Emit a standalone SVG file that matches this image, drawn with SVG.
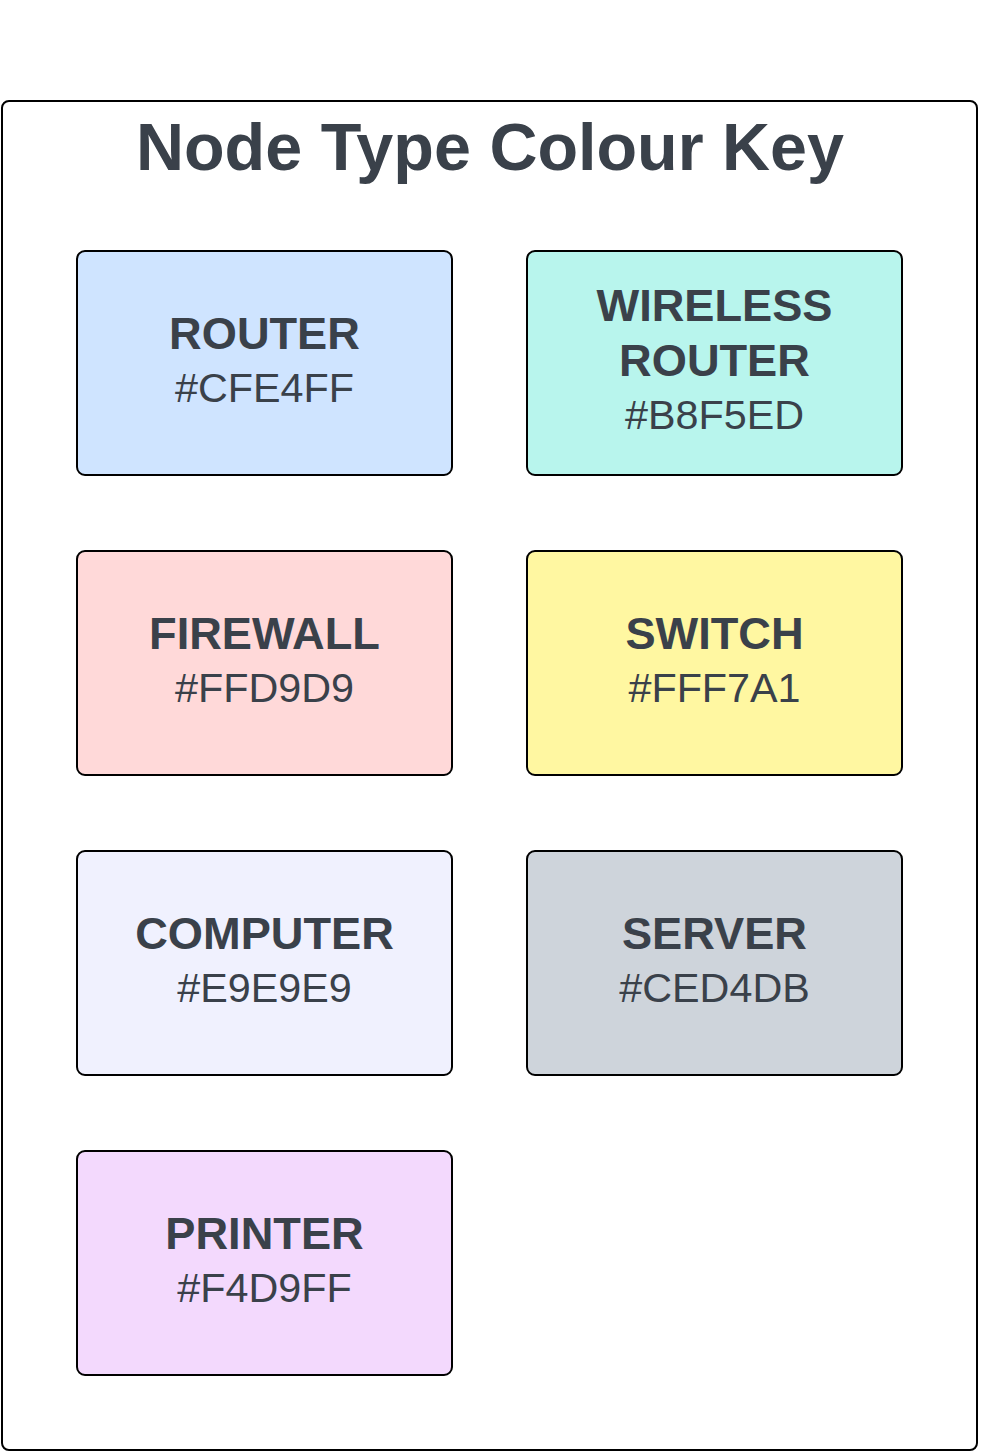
<svg xmlns="http://www.w3.org/2000/svg" width="1005" height="1453" viewBox="0 0 1005 1453">
<style>
.frame{fill:#ffffff;stroke:#000000;stroke-width:2}
.box{stroke:#000000;stroke-width:2}
.title{font-family:"Liberation Sans",Arial,sans-serif;font-weight:bold;font-size:66.5px;fill:#3A414A;text-anchor:middle}
.lbl{font-family:"Liberation Sans",Arial,sans-serif;font-weight:bold;font-size:45.2px;fill:#3A414A;text-anchor:middle}
.hex{font-family:"Liberation Sans",Arial,sans-serif;font-size:41.3px;fill:#3A414A;text-anchor:middle}
</style>
<rect x="0" y="0" width="1005" height="1453" fill="#ffffff"/>
<g id="frame">
<rect class="frame" x="2" y="101" width="975" height="1349" rx="7"/>
<text class="title" x="490" y="170">Node Type Colour Key</text>
</g>
<g id="router">
<rect class="box" x="77" y="251" width="375" height="224" rx="8" fill="#CFE4FF"/>
<text class="lbl" x="264.5" y="349">ROUTER</text>
<text class="hex" x="264.5" y="401.5">#CFE4FF</text>
</g>
<g id="wireless-router">
<rect class="box" x="527" y="251" width="375" height="224" rx="8" fill="#B8F5ED"/>
<text class="lbl" x="714.5" y="321">WIRELESS</text>
<text class="lbl" x="714.5" y="376">ROUTER</text>
<text class="hex" x="714.5" y="428.5">#B8F5ED</text>
</g>
<g id="firewall">
<rect class="box" x="77" y="551" width="375" height="224" rx="8" fill="#FFD9D9"/>
<text class="lbl" x="264.5" y="649">FIREWALL</text>
<text class="hex" x="264.5" y="701.5">#FFD9D9</text>
</g>
<g id="switch">
<rect class="box" x="527" y="551" width="375" height="224" rx="8" fill="#FFF7A1"/>
<text class="lbl" x="714.5" y="649">SWITCH</text>
<text class="hex" x="714.5" y="701.5">#FFF7A1</text>
</g>
<g id="computer">
<rect class="box" x="77" y="851" width="375" height="224" rx="8" fill="#F0F1FE"/>
<text class="lbl" x="264.5" y="949">COMPUTER</text>
<text class="hex" x="264.5" y="1001.5">#E9E9E9</text>
</g>
<g id="server">
<rect class="box" x="527" y="851" width="375" height="224" rx="8" fill="#CED4DB"/>
<text class="lbl" x="714.5" y="949">SERVER</text>
<text class="hex" x="714.5" y="1001.5">#CED4DB</text>
</g>
<g id="printer">
<rect class="box" x="77" y="1151" width="375" height="224" rx="8" fill="#F3D9FD"/>
<text class="lbl" x="264.5" y="1249">PRINTER</text>
<text class="hex" x="264.5" y="1301.5">#F4D9FF</text>
</g>
<g id="connectors"/>
</svg>
